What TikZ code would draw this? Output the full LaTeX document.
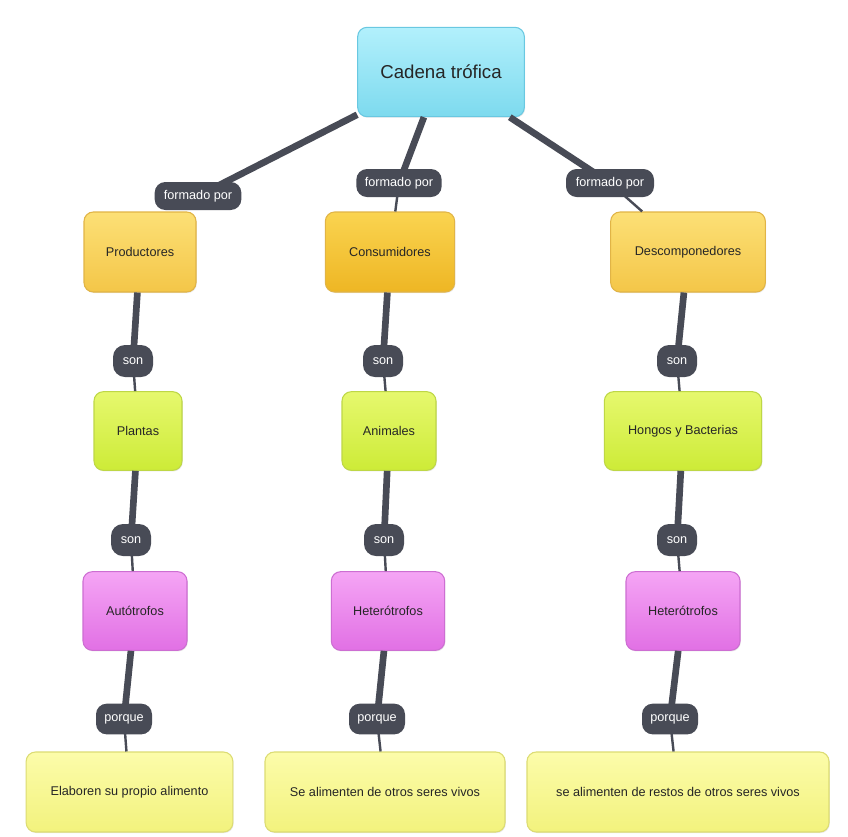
\documentclass[tikz,border=0pt]{standalone}
\usepackage{fontspec}
\setmainfont{Liberation Sans}
\usetikzlibrary{shadows}
\definecolor{lnk}{RGB}{72,75,86}
\definecolor{cyanT}{RGB}{178,240,252}
\definecolor{cyanB}{RGB}{125,218,238}
\definecolor{cyanD}{RGB}{105,200,225}
\definecolor{orT}{RGB}{252,224,118}
\definecolor{orB}{RGB}{244,198,72}
\definecolor{orD}{RGB}{225,180,70}
\definecolor{or2T}{RGB}{250,212,80}
\definecolor{or2B}{RGB}{238,182,36}
\definecolor{grT}{RGB}{230,248,110}
\definecolor{grB}{RGB}{205,235,55}
\definecolor{grD}{RGB}{190,215,70}
\definecolor{mgT}{RGB}{245,165,245}
\definecolor{mgB}{RGB}{225,112,228}
\definecolor{mgD}{RGB}{205,110,210}
\definecolor{ylT}{RGB}{252,252,170}
\definecolor{ylB}{RGB}{242,242,125}
\definecolor{ylD}{RGB}{220,220,115}
\tikzset{
  box/.style={draw, line width=0.8pt, rounded corners=7pt, align=center, inner sep=2pt,
     font=\fontsize{9.5}{11}\selectfont, text=black!85,
     drop shadow={shadow xshift=0.6pt, shadow yshift=-0.8pt, opacity=0.18}},
  cyanbox/.style={box, draw=cyanD, top color=cyanT, bottom color=cyanB},
  orbox/.style={box, draw=orD, top color=orT, bottom color=orB},
  orboxB/.style={box, draw=orD, top color=or2T, bottom color=or2B},
  grbox/.style={box, draw=grD, top color=grT, bottom color=grB},
  mgbox/.style={box, draw=mgD, top color=mgT, bottom color=mgB},
  ylbox/.style={box, draw=ylD, top color=ylT, bottom color=ylB},
  lbl/.style={fill=lnk, text=white, rounded corners=8pt, inner sep=2pt,
     font=\fontsize{9.5}{11}\selectfont, minimum height=21pt},
  thickln/.style={draw=lnk, line width=5pt},
  thinln/.style={draw=lnk, line width=1.8pt},
}
\begin{document}
\begin{tikzpicture}[x=0.75pt, y=-0.75pt]
\useasboundingbox[fill=white] (0,0) rectangle (848,836);
% nodes
\node[cyanbox, minimum width=125pt, minimum height=67pt, font=\fontsize{14}{16}\selectfont] (cad) at (441,72) {Cadena trófica};
\node[orbox, minimum width=84pt, minimum height=60pt] (prod) at (140,252) {Productores};
\node[orboxB, minimum width=97pt, minimum height=60pt] (cons) at (390,252) {Consumidores};
\node[orbox, minimum width=116pt, minimum height=60pt] (desc) at (688,252) {Descomponedores};
\node[grbox, minimum width=66pt, minimum height=59pt] (plan) at (138,431) {Plantas};
\node[grbox, minimum width=70.5pt, minimum height=59pt] (anim) at (389,431) {Animales};
\node[grbox, minimum width=118pt, minimum height=59pt] (hong) at (683,431) {Hongos y Bacterias};
\node[mgbox, minimum width=78pt, minimum height=59pt] (auto) at (135,611) {Autótrofos};
\node[mgbox, minimum width=85pt, minimum height=59pt] (het1) at (388,611) {Heterótrofos};
\node[mgbox, minimum width=85.5pt, minimum height=59pt] (het2) at (683,611) {Heterótrofos};
\node[ylbox, minimum width=155pt, minimum height=60pt] (el) at (129.5,792) {Elaboren su propio alimento};
\node[ylbox, minimum width=180pt, minimum height=60pt] (se) at (385,792) {Se alimenten de otros seres vivos};
\node[ylbox, minimum width=226.5pt, minimum height=60pt] (re) at (678,792) {se alimenten de restos de otros seres vivos};
% connectors (drawn first on background by order below)
\begin{scope}
\path[thickln] (cad) -- (198,196) coordinate (fa);
\path[thickln] (cad) -- (399,183) coordinate (fb);
\path[thickln] (cad) -- (610,183) coordinate (fc);
\path[thinln] (fb) -- (cons);
\path[thinln] (fc) -- (desc);
\path[thickln] (prod) -- (133,361) coordinate (s1);
\path[thinln] (s1) -- (plan);
\path[thickln] (plan) -- (131,540) coordinate (s2);
\path[thinln] (s2) -- (auto);
\path[thickln] (auto) -- (124,719) coordinate (p1);
\path[thinln] (p1) -- (el);
\path[thickln] (cons) -- (383,361) coordinate (s3);
\path[thinln] (s3) -- (anim);
\path[thickln] (anim) -- (384,540) coordinate (s4);
\path[thinln] (s4) -- (het1);
\path[thickln] (het1) -- (377,719) coordinate (p2);
\path[thinln] (p2) -- (se);
\path[thickln] (desc) -- (677,361) coordinate (s5);
\path[thinln] (s5) -- (hong);
\path[thickln] (hong) -- (677,540) coordinate (s6);
\path[thinln] (s6) -- (het2);
\path[thickln] (het2) -- (670,719) coordinate (p3);
\path[thinln] (p3) -- (re);
\end{scope}
% labels
\node[lbl, minimum width=65pt] (la) at (fa) {formado por};
\node[lbl, minimum width=64pt] (lb) at (fb) {formado por};
\node[lbl, minimum width=66pt] (lc) at (fc) {formado por};
\node[lbl, minimum width=30pt, rounded corners=9pt, minimum height=24pt] (ls1) at (s1) {son};
\node[lbl, minimum width=30pt, rounded corners=9pt, minimum height=24pt] (ls2) at (s2) {son};
\node[lbl, minimum width=30pt, rounded corners=9pt, minimum height=24pt] (ls3) at (s3) {son};
\node[lbl, minimum width=30pt, rounded corners=9pt, minimum height=24pt] (ls4) at (s4) {son};
\node[lbl, minimum width=30pt, rounded corners=9pt, minimum height=24pt] (ls5) at (s5) {son};
\node[lbl, minimum width=30pt, rounded corners=9pt, minimum height=24pt] (ls6) at (s6) {son};
\node[lbl, minimum width=42pt, minimum height=23pt] (lp1) at (p1) {porque};
\node[lbl, minimum width=42pt, minimum height=23pt] (lp2) at (p2) {porque};
\node[lbl, minimum width=42pt, minimum height=23pt] (lp3) at (p3) {porque};
\end{tikzpicture}
\end{document}
